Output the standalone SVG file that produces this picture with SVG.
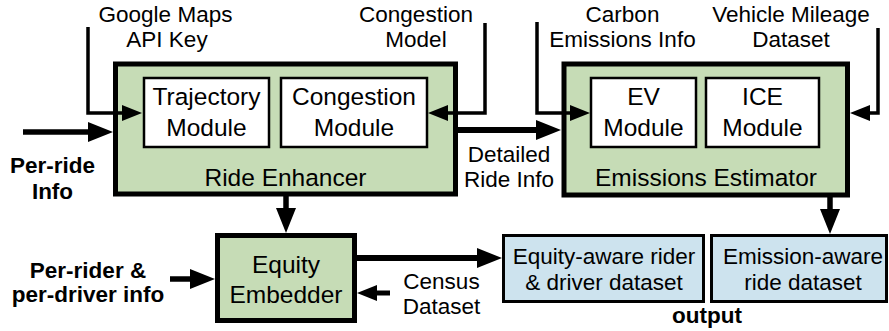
<svg xmlns="http://www.w3.org/2000/svg" width="889" height="331" viewBox="0 0 889 331">
  <defs>
    <style>
      text { font-family: "Liberation Sans", Arial, Helvetica, sans-serif; fill: #000; text-anchor: middle; }
      .big { font-size: 24.5px; }
      .lbl { font-size: 22.5px; }
      .bold { font-size: 22.5px; font-weight: 700; }
      .stage { fill: #c6dcb6; stroke: #000; stroke-width: 5; }
      .module { fill: #fff; stroke: #000; stroke-width: 2.5; }
      .out { fill: #cde3ee; stroke: #000; stroke-width: 3; }
      .thin { fill: none; stroke: #000; stroke-width: 3.5; }
      .thick { fill: none; stroke: #000; stroke-width: 5.5; }
    </style>
    <marker id="ah" viewBox="0 0 20 16" markerWidth="20" markerHeight="16" refX="8" refY="8" orient="auto" markerUnits="userSpaceOnUse">
      <path d="M0,0 L20,8 L0,16 Z" fill="#000"/>
    </marker>
    <marker id="ahL" viewBox="0 0 25 20" markerWidth="25" markerHeight="20" refX="10" refY="10" orient="auto" markerUnits="userSpaceOnUse">
      <path d="M0,0 L25,10 L0,20 Z" fill="#000"/>
    </marker>
  </defs>

  <!-- Ride Enhancer stage with its two modules -->
  <g id="ride-enhancer">
    <rect class="stage" x="115.5" y="64" width="340" height="130"/>
    <text class="big" x="285.5" y="186">Ride Enhancer</text>
  </g>
  <g id="trajectory-module">
    <rect class="module" x="144" y="78" width="125" height="69"/>
    <text class="big" x="206.5" y="105">Trajectory</text>
    <text class="big" x="206.5" y="136">Module</text>
  </g>
  <g id="congestion-module">
    <rect class="module" x="281" y="78" width="146" height="69"/>
    <text class="big" x="354" y="105">Congestion</text>
    <text class="big" x="354" y="136">Module</text>
  </g>

  <!-- Emissions Estimator stage with its two modules -->
  <g id="emissions-estimator">
    <rect class="stage" x="564" y="64" width="283.5" height="131"/>
    <text class="big" x="706" y="186">Emissions Estimator</text>
  </g>
  <g id="ev-module">
    <rect class="module" x="591" y="78" width="105" height="69"/>
    <text class="big" x="643.5" y="105">EV</text>
    <text class="big" x="643.5" y="136">Module</text>
  </g>
  <g id="ice-module">
    <rect class="module" x="706" y="78" width="113" height="69"/>
    <text class="big" x="762.5" y="105">ICE</text>
    <text class="big" x="762.5" y="136">Module</text>
  </g>

  <!-- Equity Embedder -->
  <g id="equity-embedder">
    <rect class="stage" x="217.5" y="235.5" width="137" height="85"/>
    <text class="big" x="286" y="273">Equity</text>
    <text class="big" x="286" y="303">Embedder</text>
  </g>

  <!-- Output datasets -->
  <g id="equity-dataset">
    <rect class="out" x="503.5" y="235.5" width="200" height="66"/>
    <text class="lbl" x="604" y="264">Equity-aware rider</text>
    <text class="lbl" x="604" y="290">&amp; driver dataset</text>
  </g>
  <g id="emission-dataset">
    <rect class="out" x="711.5" y="235.5" width="175" height="66"/>
    <text class="lbl" x="803" y="264">Emission-aware</text>
    <text class="lbl" x="803" y="290">ride dataset</text>
  </g>

  <!-- Connectors -->
  <g id="connectors">
    <path class="thin" d="M88,27 V113 H130" marker-end="url(#ah)"/>
    <path class="thin" d="M485,23 V113 H440" marker-end="url(#ah)"/>
    <path class="thin" d="M537,22 V113 H578" marker-end="url(#ah)"/>
    <path class="thin" d="M878,28 V113 H862" marker-end="url(#ah)"/>
    <path class="thick" d="M23,132 H98" marker-end="url(#ahL)"/>
    <path class="thick" d="M458,130 H546" style="stroke-width:6" marker-end="url(#ahL)"/>
    <path class="thick" d="M286,196 V218" marker-end="url(#ahL)"/>
    <path class="thick" d="M830,197 V219" marker-end="url(#ahL)"/>
    <path class="thick" d="M170,279 H200" marker-end="url(#ahL)"/>
    <path class="thick" d="M357,258 H487" style="stroke-width:6" marker-end="url(#ahL)"/>
    <path class="thick" d="M390,293 H369" style="stroke-width:5" marker-end="url(#ah)"/>
  </g>

  <!-- Input and output labels -->
  <g id="labels">
    <text class="lbl" x="165.5" y="22">Google Maps</text>
    <text class="lbl" x="167" y="47">API Key</text>
    <text class="lbl" x="416" y="22">Congestion</text>
    <text class="lbl" x="416" y="47">Model</text>
    <text class="lbl" x="622.5" y="22">Carbon</text>
    <text class="lbl" x="622.5" y="47">Emissions Info</text>
    <text class="lbl" x="791" y="22">Vehicle Mileage</text>
    <text class="lbl" x="791" y="47">Dataset</text>
    <text class="lbl" x="509" y="162">Detailed</text>
    <text class="lbl" x="509" y="187">Ride Info</text>
    <text class="lbl" x="441.5" y="289">Census</text>
    <text class="lbl" x="441.5" y="314">Dataset</text>
    <text class="bold" x="52.5" y="173">Per-ride</text>
    <text class="bold" x="52.5" y="199">Info</text>
    <text class="bold" x="88" y="278">Per-rider &amp;</text>
    <text class="bold" x="88" y="302">per-driver info</text>
    <text class="bold" x="707" y="323">output</text>
  </g>
</svg>
